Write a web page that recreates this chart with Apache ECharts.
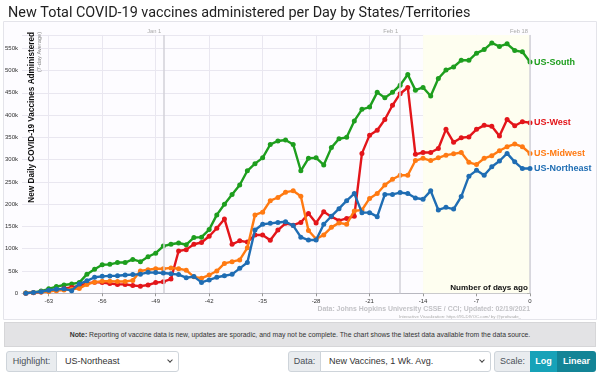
<!DOCTYPE html>
<html><head><meta charset="utf-8">
<script src="https://cdn.jsdelivr.net/npm/echarts@6/dist/echarts.min.js"></script>
<style>
html,body{margin:0;padding:0;width:600px;height:372px;overflow:hidden;background:#fff;font-family:"Liberation Sans",Arial,sans-serif;}
#chart{position:absolute;left:0;top:0;width:600px;height:372px;}
.note{position:absolute;left:4px;top:322px;width:592px;height:25px;background:#e3e3e5;border:1px solid #d6d6d8;box-sizing:border-box;font-size:6.85px;color:#333;text-align:center;line-height:23px;white-space:nowrap;}
.box{position:absolute;top:351px;height:21px;box-sizing:border-box;font-size:9px;line-height:19px;color:#495057;border:1px solid #ced4da;white-space:nowrap;}
.lab{background:#e9ecef;text-align:center;}
.sel{background:#fff;padding-left:8px;color:#333;}
.chev{position:absolute;right:6px;top:6px;width:3px;height:3px;border-right:1px solid #444;border-bottom:1px solid #444;transform:rotate(45deg);}
.btn{color:#fff;font-weight:bold;text-align:center;border:none;line-height:21px;}
</style></head>
<body>
<div id="chart"></div>
<div class="note"><b>Note:</b> Reporting of vaccine data is new, updates are sporadic, and may not be complete. The chart shows the latest data available from the data source.</div>
<div class="box lab" style="left:6px;width:51px;border-radius:3px 0 0 3px;">Highlight:</div>
<div class="box sel" style="left:56px;width:123px;border-radius:0 3px 3px 0;">US-Northeast<span class="chev"></span></div>
<div class="box lab" style="left:288px;width:33px;border-radius:3px 0 0 3px;">Data:</div>
<div class="box sel" style="left:320px;width:171px;border-radius:0 3px 3px 0;">New Vaccines, 1 Wk. Avg.<span class="chev"></span></div>
<div class="box lab" style="left:494px;width:37px;border-radius:3px 0 0 3px;">Scale:</div>
<div class="box btn" style="left:530px;width:27px;background:#17a2b8;">Log</div>
<div class="box btn" style="left:557px;width:39px;background:#138496;border-radius:0 3px 3px 0;">Linear</div>
<script>
// Days ago (x values)
const days = [-66,-65,-64,-63,-62,-61,-60,-59,-58,-57,-56,-55,-54,-53,-52,-51,-50,-49,-48,-47,-46,-45,-44,-43,-42,-41,-40,-39,-38,-37,-36,-35,-34,-33,-32,-31,-30,-29,-28,-27,-26,-25,-24,-23,-22,-21,-20,-19,-18,-17,-16,-15,-14,-13,-12,-11,-10,-9,-8,-7,-6,-5,-4,-3,-2,-1,0];
// New daily vaccines (7-day avg), thousands
const usSouth = [0.5,2,5,10,15,18.6,21,24,43,54,64,65,69,69,76,71,82,90,106,110,113,109,125,126,143,176,200,222,243,275,291,304,334,342,344,334,275,303,304,288,327,347,350,387,413,418,451,439,451,467,491,456,462,443,482,501,508,523,523,539,547,562,554,560,545,542,519];
const usWest = [0,1.5,3,5,7,11,13,17,22,25,24,22,20,20,17.5,16,18.6,24,26,32,95,98,110,114,128,146,167,110,118,115,131,131,119,142,157,153,159,179,158,183,172,163,168,173,314,355,366,390,422,448,462,312,316,316,325,368,339,349,351,368,377,375,353,390,376,385,383];
const usMidwest = [0.5,2,3,4,6,7.5,9,11,20,25,27,27,26.5,26.5,29,50,53,55,55,57,55,52,37,34,41,50,67,71,75,102,176,182,208,215,227,230,218,141,122,131,148,158,155,185,187,213,224,243,256,265,265,298,303,298,304,310,313,316,294,289,303,309,320,329,335,329,314];
const usNortheast = [0,2,3.5,7,9,10,6,21,28,36,38,39,39.5,41,42,43,47,46.5,45.5,44,42,35,37.5,24.5,30,36,39.5,42.5,56,69,142,155,157,159,160.5,152,126,119.5,119.5,155,173,190,208,224,181,181,172,222,222,226,224,214,211,230,187,193,189,217,263,276,265,284,297,314,295,280,280];
// Tick labels
const xTicks = [-63,-56,-49,-42,-35,-28,-21,-14,-7,0];
const yTickStep = 50;
const dateMarks = [{day:-48,label:'Jan 1'},{day:-17,label:'Feb 1'},{day:0,label:'Feb 18'}];
const recentRange = [-14, 0];

const FONT = '"Liberation Sans", Arial, sans-serif';
const chart = echarts.init(document.getElementById('chart'), null, {renderer:'canvas'});

function mk(name, vals, color, z) {
  return {
    name: name, type: 'line', z: z,
    data: days.map((d, i) => [d, vals[i]]),
    symbol: 'circle', symbolSize: 5, showSymbol: true,
    lineStyle: {width: 2.4, color: color},
    itemStyle: {color: color},
    emphasis: {disabled: true},
    endLabel: {show: true, formatter: name, color: color, fontWeight: 'bold', fontSize: 9, fontFamily: FONT, distance: 4},
    animation: false
  };
}

const series = [
  mk('US-South', usSouth, '#1e9e1e', 2),
  mk('US-West', usWest, '#e3151a', 3),
  mk('US-Midwest', usMidwest, '#ff7a12', 4),
  mk('US-Northeast', usNortheast, '#1f6db3', 5)
];
series[0].markArea = {
  silent: true,
  itemStyle: {color: '#fefef0'},
  data: [[{xAxis: recentRange[0]}, {xAxis: recentRange[1]}]]
};
series[0].markLine = {
  silent: true, symbol: 'none', animation: false,
  label: {show: false},
  lineStyle: {color: '#d2d2d8', width: 1.5, type: 'solid'},
  data: dateMarks.map(m => ({xAxis: m.day}))
};

chart.setOption({
  backgroundColor: 'transparent',
  animation: false,
  title: {
    text: 'New Total COVID-19 vaccines administered per Day by States/Territories',
    left: 3, top: 1,
    textStyle: {fontSize: 14.4, fontWeight: 'normal', color: '#222', fontFamily: 'Roboto, sans-serif'}
  },
  grid: {left: 22, right: 70, top: 34.9, bottom: 78.7},
  xAxis: {
    type: 'value', min: -66.5, max: 0,
    axisLine: {show: true, lineStyle: {color: '#b8b8c0'}},
    axisTick: {show: true, customValues: xTicks, length: 3, lineStyle: {color: '#999'}},
    axisLabel: {customValues: xTicks, fontSize: 6, color: '#333', margin: 5, fontFamily: FONT},
    splitLine: {show: true, lineStyle: {color: '#e9e7f0'}}
  },
  yAxis: {
    type: 'value', min: 0, max: 580, interval: yTickStep,
    axisLine: {show: false},
    axisTick: {show: true, length: 3, lineStyle: {color: '#999'}},
    axisLabel: {fontSize: 6, color: '#333', margin: 4, showMaxLabel: false, fontFamily: FONT,
      formatter: v => v === 0 ? '0' : v + 'k'},
    splitLine: {show: true, lineStyle: {color: '#e9e7f0'}}
  },
  series: series
});

const px = d => chart.convertToPixel({xAxisIndex: 0}, d);
const topY = chart.convertToPixel({yAxisIndex: 0}, 580);
const graphics = [
  {type: 'rect', z: -10, silent: true, shape: {x: 3.5, y: 21.5, width: 593, height: 298},
   style: {fill: '#fdfcff', stroke: '#e4e4ea', lineWidth: 1}},
  {type: 'text', x: 31.5, y: 32, rotation: Math.PI / 2, silent: true,
   style: {text: 'New Daily COVID-19 Vaccines Administered', fontSize: 8.2, fontWeight: 'bold', fill: '#111',
     align: 'right', verticalAlign: 'middle', fontFamily: FONT}},
  {type: 'text', x: 39.5, y: 32, rotation: Math.PI / 2, silent: true,
   style: {text: '(7-day Average)', fontSize: 5.6, fill: '#888', align: 'right', verticalAlign: 'middle', fontFamily: FONT}},
  {type: 'text', x: px(0) - 2, y: 287.5, silent: true, z: 20,
   style: {text: 'Number of days ago', fontSize: 8.1, fontWeight: 'bold', fill: '#111', align: 'right', verticalAlign: 'middle', fontFamily: FONT}},
  {type: 'text', x: px(0), y: 309, silent: true,
   style: {text: 'Data: Johns Hopkins University CSSE / CCI; Updated: 02/19/2021', fontSize: 6.9, fontWeight: 'bold', fill: '#c2c2c6', align: 'right', verticalAlign: 'middle', fontFamily: FONT}},
  {type: 'text', x: px(0) - 9, y: 317, silent: true,
   style: {text: 'Interactive Visualization: https://91-DIVOC.com/ by @profwade_', fontSize: 4.3, fill: '#aaa', align: 'right', verticalAlign: 'middle', fontFamily: FONT}}
];
dateMarks.forEach(m => {
  graphics.push({type: 'text', x: px(m.day) - 2, y: topY - 4, silent: true,
    style: {text: m.label, fontSize: 5.8, fill: '#aaa', align: 'right', verticalAlign: 'middle', fontFamily: FONT}});
});
chart.setOption({graphic: graphics});
</script>
</body></html>
